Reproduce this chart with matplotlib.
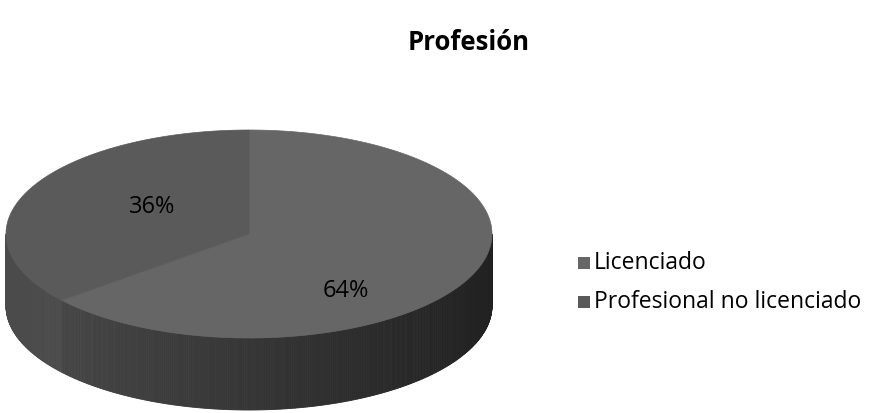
import matplotlib.pyplot as plt
import numpy as np
from matplotlib.patches import Polygon, Rectangle

labels = ['Licenciado', 'Profesional no licenciado']
values = [64, 36]
top_colors = ['#666666', '#5a5a5a']
title = 'Profesión'

plt.rcParams['font.family'] = ['Open Sans', 'DejaVu Sans']

fig = plt.figure(figsize=(8.69, 4.13), dpi=100)
ax = fig.add_axes([0, 0, 1, 1])
ax.set_xlim(0, 869)
ax.set_ylim(413, 0)
ax.axis('off')

# pie geometry in pixels (y down)
cx, cy = 249, 234
a, b = 243, 104
depth = 72

fracs = np.array(values, dtype=float) / np.sum(values)
start = -90.0
bounds = []
for f in fracs:
    bounds.append((start, start + 360 * f))
    start += 360 * f

def pt(t, dy=0):
    r = np.radians(t)
    return cx + a * np.cos(r), cy + b * np.sin(r) + dy

# side wall (front half only, t in 0..180)
steps = np.linspace(0, 180, 361)
for i in range(len(steps) - 1):
    t0, t1 = steps[i], steps[i + 1]
    tm = (t0 + t1) / 2
    idx = 0
    for k, (s, e) in enumerate(bounds):
        tt = tm if tm >= s else tm + 360
        if s <= tt <= e:
            idx = k
    x0, y0 = pt(t0)
    x1, y1 = pt(t1)
    xm = pt(tm)[0]
    v = 0.29 - 0.16 * (xm - (cx - a)) / (2 * a)
    if idx == 1:
        v = 0.295
    col = (v, v, v)
    ax.add_patch(Polygon([(x0, y0), (x1, y1), (x1, y1 + depth), (x0, y0 + depth)],
                         closed=True, facecolor=col, edgecolor=col, lw=0.6))

# top faces
for (s, e), col in zip(bounds, top_colors):
    ts = np.linspace(s, e, 200)
    poly = [(cx, cy)] + [pt(t) for t in ts]
    ax.add_patch(Polygon(poly, closed=True, facecolor=col, edgecolor=col, lw=0.5))

# percentage labels
for (s, e), v in zip(bounds, values):
    r = np.radians((s + e) / 2)
    lx = cx + 0.44 * a * np.cos(r)
    ly = cy + 0.95 * b * np.sin(r) + 15
    ax.text(lx, ly, f'{v}%', ha='center', va='center', fontsize=17, color='black')

ax.text(469, 43, title, ha='center', va='center', fontsize=18.5, fontweight='bold')

# legend
for i, (lab, col) in enumerate(zip(labels, top_colors)):
    yy = 263 + i * 39
    ax.add_patch(Rectangle((578, yy - 6), 12, 12, facecolor=col, edgecolor='none'))
    ax.text(594, yy, lab, ha='left', va='center', fontsize=16.5)

fig.savefig('out.png', dpi=100)
